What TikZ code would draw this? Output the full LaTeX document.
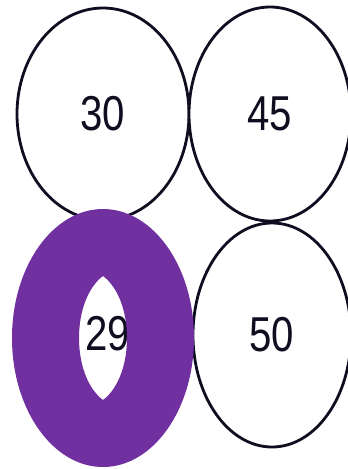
\documentclass[tikz,border=0pt]{standalone}
\usepackage{fontspec}
\setmainfont{Liberation Sans}
\usetikzlibrary{shapes.geometric}
\definecolor{ink}{HTML}{0E0E20}
\definecolor{ringc}{HTML}{7030A0}
\newcommand{\digits}[1]{\scalebox{0.82}[1]{#1}}
\tikzset{
  cell/.style 2 args={ellipse,draw=ink,fill=white,line width=2.8pt,inner sep=0pt,
    minimum width=#1,minimum height=#2,text=ink,font=\fontsize{49}{49}\selectfont},
  lbl/.style={inner sep=0pt,text=ink,font=\fontsize{49}{49}\selectfont},
  ring/.style={fill=ringc,even odd rule},
}

\begin{document}
\begin{tikzpicture}[x=1pt,y=-1pt]
        \useasboundingbox (0,0) rectangle (348,469);
        \clip (0,0) rectangle (348,469);
        \fill[white] (0,0) rectangle (348,469);

        \node[cell={172pt}{212pt}] (c30) at (103,114) {\digits{30}};
        \node[cell={162pt}{214pt}] (c45) at (270,114) {\digits{45}};
        \node[cell={158pt}{224pt}] (c50) at (272,335) {\digits{50}};

        % highlighted cell, the ring hides part of its label
        \node[lbl] (l29) at (108,334) {\digits{29}};
        \fill[ring] (103,338) ellipse [x radius=91, y radius=129]
          (103,276) .. controls (71,300) and (71,376) .. (103,400)
          .. controls (135,376) and (135,300) .. (103,276);
      \end{tikzpicture}
\end{document}
